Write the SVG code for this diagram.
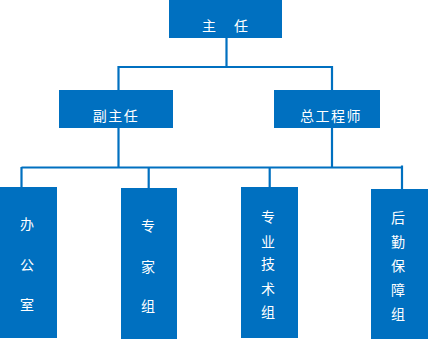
<svg xmlns="http://www.w3.org/2000/svg" width="428" height="340" viewBox="0 0 428 340">
<style>
.box{fill:#0070C0}
.t{fill:#ffffff;font-family:"Noto Sans CJK SC","Noto Sans",sans-serif;font-size:14px;text-anchor:middle}
.ln{stroke:#0070C0;stroke-width:2.2;fill:none}
</style>
<rect width="428" height="340" fill="#ffffff"/>
<g id="connectors">
<path class="ln" d="M226.5 38V67M118.5 67H332M118.5 66V90M332 66V90"/>
<path class="ln" d="M118.5 128V167M332 128V167M21.5 167.5H402.5M21.5 167V187M148.7 167V188M269.7 167V187M402 165.5V189"/>
</g>
<g id="n-zhuren"><rect class="box" x="169" y="0" width="113" height="38"/>
<text class="t" x="209" y="31">主</text><text class="t" x="241" y="31">任</text></g>
<g id="n-fuzhuren"><rect class="box" x="59" y="90" width="114" height="38"/>
<text class="t" x="116" y="121" letter-spacing="1.5">副主任</text></g>
<g id="n-zonggong"><rect class="box" x="274" y="90" width="106" height="38"/>
<text class="t" x="331" y="121" letter-spacing="1.5">总工程师</text></g>
<g id="n-bangongshi"><rect class="box" x="0" y="187" width="57" height="151"/>
<text class="t" x="27" y="229">办</text><text class="t" x="27" y="270">公</text><text class="t" x="27" y="310">室</text></g>
<g id="n-zhuanjiazu"><rect class="box" x="121" y="188" width="56" height="151"/>
<text class="t" x="148" y="231">专</text><text class="t" x="148" y="272">家</text><text class="t" x="148" y="311">组</text></g>
<g id="n-zhuanyejishu"><rect class="box" x="241" y="187" width="57" height="151"/>
<text class="t" x="268" y="222">专</text><text class="t" x="268" y="247">业</text><text class="t" x="268" y="269">技</text><text class="t" x="268" y="294">术</text><text class="t" x="268" y="317">组</text></g>
<g id="n-houqin"><rect class="box" x="371" y="189" width="57" height="150"/>
<text class="t" x="398" y="223">后</text><text class="t" x="398" y="247">勤</text><text class="t" x="398" y="271">保</text><text class="t" x="398" y="295">障</text><text class="t" x="398" y="319">组</text></g>
</svg>
